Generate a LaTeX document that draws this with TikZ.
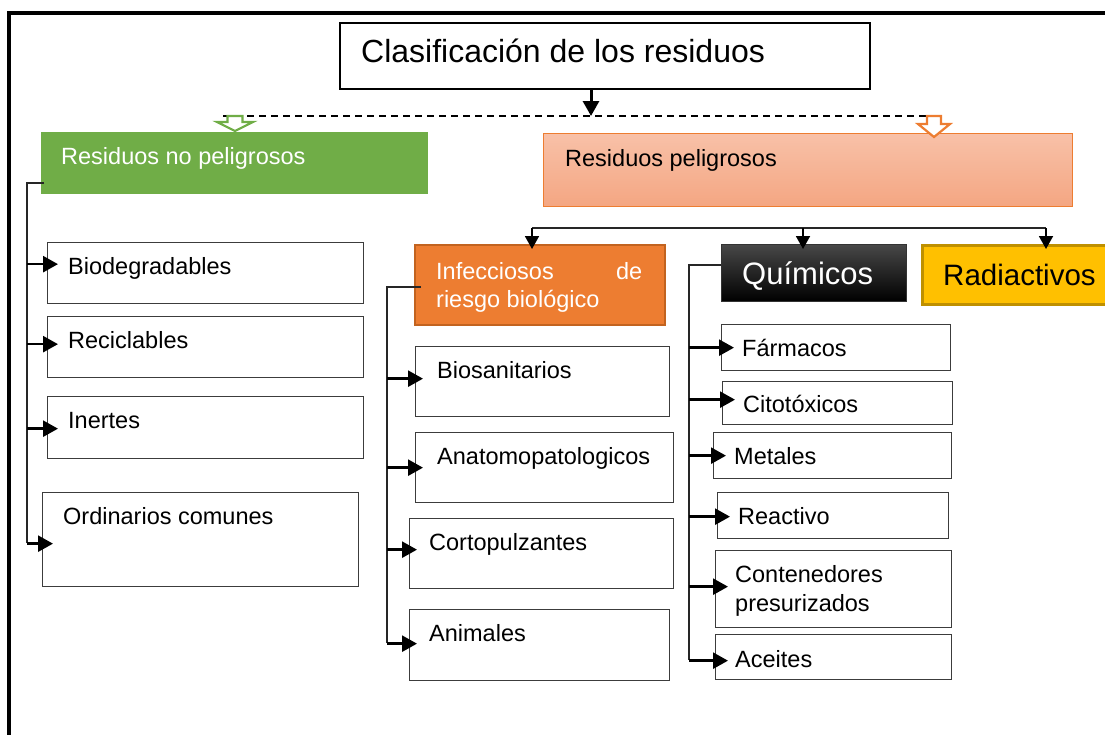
\documentclass[tikz,border=0pt]{standalone}
\usepackage{fontspec}
\setmainfont{Liberation Sans}
\usetikzlibrary{arrows.meta}

\definecolor{verde}{HTML}{70AD47}
\definecolor{naranja}{HTML}{ED7D31}
\definecolor{naranjaosc}{HTML}{C2631F}
\definecolor{salmonA}{HTML}{F8C1A8}
\definecolor{salmonB}{HTML}{F4A682}
\definecolor{amarillo}{HTML}{FFC000}
\definecolor{amarillosc}{HTML}{BF9000}
\definecolor{borde}{HTML}{3C3C3C}

\tikzset{
  caja/.style={draw=borde, line width=1.3pt, anchor=north west, inner sep=0pt},
  texto/.style={anchor=north west, inner xsep=21pt, inner ysep=15.5pt, text height=17pt,
    text depth=5pt, align=left, font=\fontsize{23.5}{28.5}\selectfont},
  dos lineas/.style={text height=45.5pt},
  grande/.style={texto, inner ysep=18pt, text height=22.5pt, font=\fontsize{31}{36}\selectfont},
  flecha/.style={line width=2.6pt, -{Triangle[length=15pt,width=16pt]}},
  bajada/.style={line width=1.8pt, shorten >=-5pt, -{Triangle[length=13pt,width=14pt]}},
  tronco/.style={line width=1.3pt, draw=black!85},
  hueca/.style={line width=2.2pt, fill=white, line join=miter},
}

\begin{document}
\begin{tikzpicture}[x=1pt, y=-1pt]
\useasboundingbox (0,0) rectangle (1105,734);

% marco
\draw[line width=3.5pt] (9,740) -- (9,13) -- (1110,13);

% titulo y primera division
\node[caja, draw=black, line width=2pt, minimum width=530pt, minimum height=66pt,
  label={[texto, inner xsep=22pt, inner ysep=17pt, text height=23pt, font=\fontsize{32}{38}\selectfont]north west:Clasificación de los residuos}] (titulo) at (339,22) {};

\node[caja, draw=verde, fill=verde, minimum width=386pt, minimum height=61pt,
  label={[texto, text=white, inner xsep=20pt]north west:Residuos no peligrosos}] (nopel) at (41,132) {};
\node[caja, draw=naranja, line width=1pt, top color=salmonA, bottom color=salmonB,
  minimum width=529pt, minimum height=73pt,
  label={[texto, inner xsep=22pt, inner ysep=16pt]north west:Residuos peligrosos}] (pel) at (543,133) {};

\coordinate (cruce) at (591,116);
\coordinate (ini) at (223,116);
\coordinate (fin) at (930,116);
\draw[line width=3pt, -{Triangle[length=15pt,width=16pt]}] (titulo.south -| cruce) -- (cruce);
\draw[line width=1.2pt, dash pattern=on 7pt off 5pt] (ini) -- (fin);

% flechas huecas
\coordinate (gpunta) at (235,131);
\coordinate (opunta) at (934,137);
\draw[hueca, draw=verde] (gpunta) -- ++(-18,-9) -- ++(10.5,0) -- ++(0,-6) -- ++(15,0)
  -- ++(0,6) -- ++(10.5,0) -- cycle;
\draw[hueca, draw=naranja] (opunta) -- ++(-16,-13) -- ++(9,0) -- ++(0,-8) -- ++(14,0)
  -- ++(0,8) -- ++(9,0) -- cycle;

% tipos de residuos peligrosos
\node[caja, draw=naranjaosc, line width=2pt, fill=naranja, minimum width=250pt, minimum height=80pt,
  label={[texto, dos lineas, text=white, inner xsep=22pt, inner ysep=18pt]north west:\makebox[206pt][l]{Infecciosos\hfill de}\\riesgo biológico}] (infec) at (414,244) {};
\node[caja, draw=black!80, line width=1pt, top color=black!72, bottom color=black,
  minimum width=185pt, minimum height=57pt,
  label={[grande, text=white]north west:Químicos}] (quim) at (721,244) {};
\node[caja, draw=amarillosc, line width=2.5pt, fill=amarillo, minimum width=200pt, minimum height=59pt,
  label={[grande, inner xsep=22pt, inner ysep=19pt, font=\fontsize{29.5}{34}\selectfont]north west:Radiactivos}] (radi) at (921,244) {};

\coordinate (rama1) at (532,228);
\coordinate (rama2) at (803,228);
\coordinate (rama3) at (1046,228);
\draw[tronco] (rama1) -- (rama3);
\draw[bajada] (rama1) -- (infec.north -| rama1);
\draw[bajada] (rama2) -- (quim.north -| rama2);
\draw[bajada] (rama3) -- (radi.north -| rama3);

% no peligrosos
\node[caja, minimum width=316pt, minimum height=61pt, label={[texto]north west:Biodegradables}] (bio) at (47,242) {};
\node[caja, minimum width=316pt, minimum height=61pt, label={[texto]north west:Reciclables}] (recic) at (47,316) {};
\node[caja, minimum width=316pt, minimum height=62pt, label={[texto]north west:Inertes}] (inert) at (47,396) {};
\node[caja, minimum width=316pt, minimum height=94pt, label={[texto]north west:Ordinarios comunes}] (ordin) at (42,492) {};

\coordinate (izq) at (27,183);
\coordinate (izqfin) at (27,543);
\draw[tronco] ([xshift=3pt]nopel.west |- izq) -- (izq) -- (izqfin);
\foreach \n/\d in {bio/9, recic/3, inert/-1, ordin/-4}
  \draw[flecha] ([yshift=\d pt]izq |- \n.west) -- ([xshift=11pt, yshift=\d pt]\n.west);

% infecciosos
\node[caja, minimum width=254pt, minimum height=70pt, label={[texto, inner xsep=22pt]north west:Biosanitarios}] (biosan) at (415,346) {};
\node[caja, minimum width=258pt, minimum height=70pt, label={[texto, inner xsep=22pt]north west:Anatomopatologicos}] (anat) at (415,432) {};
\node[caja, minimum width=264pt, minimum height=70pt, label={[texto, inner xsep=20pt]north west:Cortopulzantes}] (corto) at (409,518) {};
\node[caja, minimum width=260pt, minimum height=71pt, label={[texto, inner xsep=20pt]north west:Animales}] (anim) at (409,609) {};

\coordinate (cen) at (387,287);
\coordinate (cenfin) at (387,643);
\draw[tronco] ([xshift=7pt]infec.west |- cen) -- (cen) -- (cenfin);
\foreach \n/\d in {biosan/3, anat/0, corto/4, anim/1.5}
  \draw[flecha] ([yshift=\d pt]cen |- \n.west) -- ([xshift=8pt, yshift=\d pt]\n.west);

% quimicos
\node[caja, minimum width=229pt, minimum height=46pt, label={[texto]north west:Fármacos}] (farm) at (721,324) {};
\node[caja, minimum width=230pt, minimum height=43pt, label={[texto, inner ysep=14.5pt]north west:Citotóxicos}] (cito) at (722,381) {};
\node[caja, minimum width=238pt, minimum height=46pt, label={[texto]north west:Metales}] (metal) at (713,432) {};
\node[caja, minimum width=231pt, minimum height=46pt, label={[texto]north west:Reactivo}] (react) at (717,492) {};
\node[caja, minimum width=236pt, minimum height=77pt, label={[texto, dos lineas, inner xsep=20pt]north west:Contenedores\\presurizados}] (conten) at (715,550) {};
\node[caja, minimum width=236pt, minimum height=45pt, label={[texto, inner xsep=20pt, inner ysep=16.5pt]north west:Aceites}] (aceit) at (715,634) {};

\coordinate (der) at (689,265);
\coordinate (derfin) at (689,660);
\draw[tronco] (quim.west |- der) -- (der) -- (derfin);
\foreach \n/\d in {farm/0, cito/3.5, metal/0, react/-1, conten/2.5, aceit/-3.5}
  \draw[flecha] ([yshift=\d pt]der |- \n.west) -- ([xshift=13pt, yshift=\d pt]\n.west);

\end{tikzpicture}
\end{document}
